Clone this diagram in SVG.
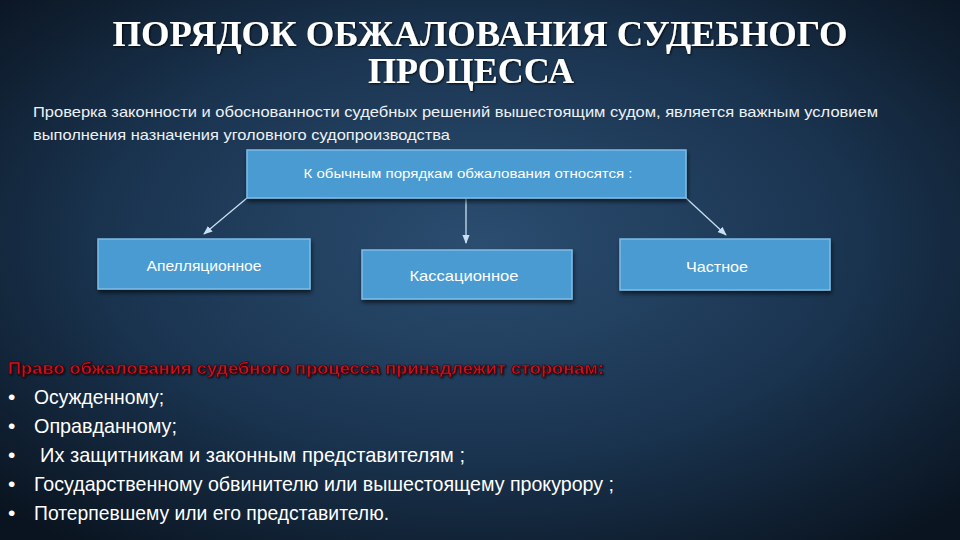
<svg xmlns="http://www.w3.org/2000/svg" width="960" height="540" viewBox="0 0 960 540">
<defs>
<radialGradient id="bg" cx="0.5" cy="0.45" r="0.7">
<stop offset="0" stop-color="#2b4d70"/>
<stop offset="0.55" stop-color="#1a3450"/>
<stop offset="1" stop-color="#0a1420"/>
</radialGradient>
<marker id="ah" viewBox="0 0 10 10" refX="9" refY="5" markerWidth="7" markerHeight="7" orient="auto">
<path d="M0,1 L10,5 L0,9 z" fill="#c8e0f2"/>
</marker>
<filter id="sh" x="-10%" y="-20%" width="120%" height="150%">
<feDropShadow dx="1" dy="3" stdDeviation="2" flood-color="#000" flood-opacity="0.6"/>
</filter>
<filter id="ts" x="-5%" y="-30%" width="110%" height="160%">
<feDropShadow dx="1" dy="1" stdDeviation="1" flood-color="#000" flood-opacity="0.8"/>
</filter>
</defs>
<style>
.box{fill:#4a9bd2;stroke:#7fbde6;stroke-width:1.5;filter:url(#sh)}
.bt{font-family:"Liberation Sans",Arial,sans-serif;fill:#ffffff;text-anchor:middle}
.title{font-family:"Liberation Serif","DejaVu Serif",serif;font-weight:bold;font-size:36px;fill:#ffffff;text-anchor:middle;filter:url(#ts)}
.sub{font-family:"Liberation Sans",Arial,sans-serif;font-size:15px;fill:#eef2f6}
.li{font-family:"Liberation Sans",Arial,sans-serif;font-size:21px;fill:#ffffff}
.red{font-family:"Liberation Sans",Arial,sans-serif;font-weight:bold;font-size:17px;fill:#d4101c;stroke:#3a0508;stroke-width:0.6;filter:url(#ts)}
.con{stroke:#c8e0f2;stroke-width:1.3;fill:none;marker-end:url(#ah)}
</style>
<rect width="960" height="540" fill="url(#bg)"/>
<text class="title" x="480" y="46" textLength="735" lengthAdjust="spacingAndGlyphs">ПОРЯДОК ОБЖАЛОВАНИЯ СУДЕБНОГО</text>
<text class="title" x="471" y="83" textLength="206" lengthAdjust="spacingAndGlyphs">ПРОЦЕССА</text>
<text class="sub" x="33" y="117" textLength="845" lengthAdjust="spacingAndGlyphs">Проверка законности и обоснованности судебных решений вышестоящим судом, является важным условием</text>
<text class="sub" x="33" y="140" textLength="417" lengthAdjust="spacingAndGlyphs">выполнения назначения уголовного судопроизводства</text>
<g id="connectors">
<line class="con" x1="247" y1="198" x2="204" y2="234"/>
<line class="con" x1="466" y1="198" x2="466" y2="243"/>
<line class="con" x1="686" y1="198" x2="726" y2="235"/>
</g>
<g id="top">
<rect class="box" x="247" y="150" width="439" height="48"/>
<text class="bt" x="468" y="178" font-size="13" textLength="329" lengthAdjust="spacingAndGlyphs">К обычным порядкам обжалования относятся :</text>
</g>
<g id="appeal">
<rect class="box" x="98" y="239" width="212" height="50"/>
<text class="bt" x="204" y="271" font-size="15" textLength="115" lengthAdjust="spacingAndGlyphs">Апелляционное</text>
</g>
<g id="cassation">
<rect class="box" x="362" y="250" width="210" height="49"/>
<text class="bt" x="464" y="281" font-size="15" textLength="109" lengthAdjust="spacingAndGlyphs">Кассационное</text>
</g>
<g id="private">
<rect class="box" x="620" y="239" width="210" height="51"/>
<text class="bt" x="717" y="272" font-size="15" textLength="62" lengthAdjust="spacingAndGlyphs">Частное</text>
</g>
<text class="red" x="8" y="374" textLength="596" lengthAdjust="spacingAndGlyphs">Право обжалования судебного процесса принадлежит сторонам:</text>
<g class="li">
<text x="8" y="404">•</text><text x="34" y="404" textLength="130" lengthAdjust="spacingAndGlyphs">Осужденному;</text>
<text x="8" y="433">•</text><text x="34" y="433" textLength="143" lengthAdjust="spacingAndGlyphs">Оправданному;</text>
<text x="8" y="462">•</text><text x="40" y="462" textLength="425" lengthAdjust="spacingAndGlyphs">Их защитникам и законным представителям ;</text>
<text x="8" y="491">•</text><text x="34" y="491" textLength="580" lengthAdjust="spacingAndGlyphs">Государственному обвинителю или вышестоящему прокурору ;</text>
<text x="8" y="520">•</text><text x="34" y="520" textLength="355" lengthAdjust="spacingAndGlyphs">Потерпевшему или его представителю.</text>
</g>
</svg>
